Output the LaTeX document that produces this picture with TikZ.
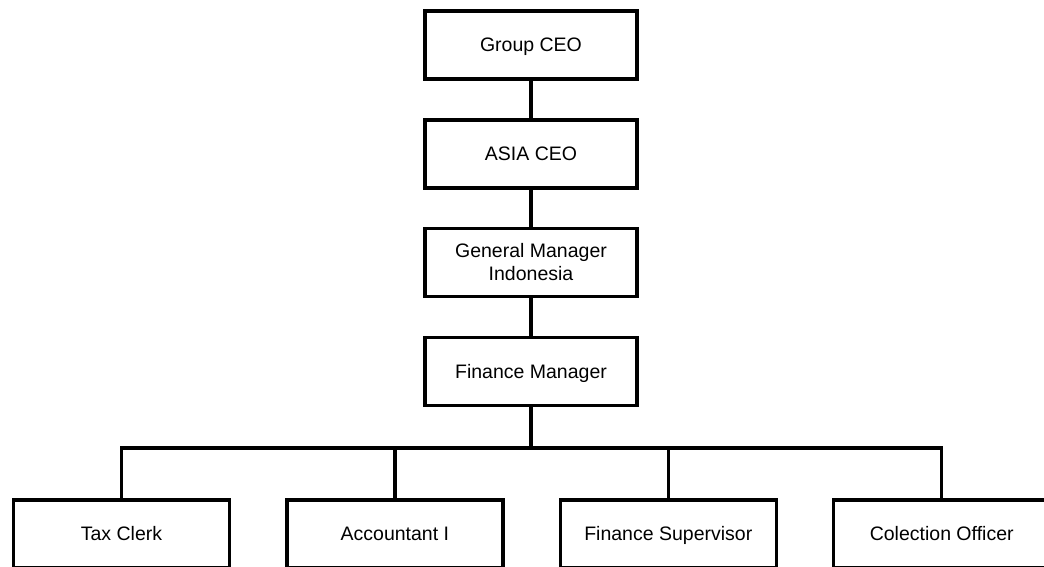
\documentclass[tikz,border=0pt]{standalone}
\usepackage{fontspec}
\setmainfont{Liberation Sans}
\begin{document}
\begin{tikzpicture}[x=1pt,y=-1pt,
  box/.style={draw=black,line width=3.2pt,fill=white,inner sep=0pt,
    minimum width=212pt,minimum height=68pt,align=center,
    font=\fontsize{19.5}{23}\selectfont},
  onebox/.style={box,text height=14pt,text depth=1pt},
  lowbox/.style={onebox,minimum width=216pt},
  link/.style={draw=black,line width=3.2pt,line join=miter}]
\useasboundingbox (0,0) rectangle (1044,567);
\clip (0,0) rectangle (1044,567);
\node[onebox] (gceo) at (531,45) {Group CEO};
\node[onebox] (aceo) at (531,154) {ASIA CEO};
\node[box] (gm) at (531,262.5) {General Manager\\Indonesia};
\node[onebox] (fm) at (531,371.5) {Finance Manager};
\coordinate (bus) at (531,448);
\node[lowbox] (tc) at (121.5,534) {Tax Clerk};
\node[lowbox] (ac) at (394.9,534) {Accountant I};
\node[lowbox] (fs) at (668.3,534) {Finance Supervisor};
\node[lowbox] (co) at (941.7,534) {Colection Officer};
\draw[link] (gceo) -- (aceo);
\draw[link] (aceo) -- (gm);
\draw[link] (gm) -- (fm);
\draw[link] (fm.south) -- (bus);
\draw[link] (bus) -| (tc.north);
\draw[link] (bus) -| (ac.north);
\draw[link] (bus) -| (fs.north);
\draw[link] (bus) -| (co.north);
\end{tikzpicture}
\end{document}
